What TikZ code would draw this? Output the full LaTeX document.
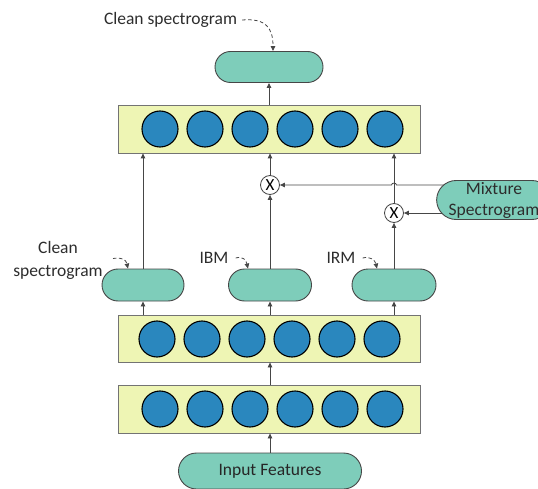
\documentclass[tikz,border=0pt]{standalone}
\usepackage{fontspec}
\setmainfont{Carlito}
\usetikzlibrary{shapes.misc,arrows.meta,backgrounds,calc}
\definecolor{pillfill}{RGB}{126,205,186}
\definecolor{layerfill}{RGB}{238,245,180}
\definecolor{unitfill}{RGB}{42,135,190}
\definecolor{txt}{RGB}{45,45,45}
\definecolor{edge}{RGB}{70,70,70}

\begin{document}
\begin{tikzpicture}[x=1pt,y=-1pt,
  pill/.style={rounded rectangle, draw=edge, line width=0.9pt, fill=pillfill,
    minimum height=32pt, inner sep=0pt, text=txt, font=\fontsize{17.5}{21}\selectfont},
  layer/.style={rectangle, draw=black!55, line width=0.8pt, fill=layerfill,
    minimum width=302pt, minimum height=48pt, inner sep=0pt},
  unit/.style={circle, draw=black, line width=1.1pt, fill=unitfill,
    minimum size=36pt, inner sep=0pt},
  mult/.style={circle, draw=edge, line width=0.8pt, fill=white,
    minimum size=19pt, inner sep=0pt, font=\fontsize{17}{17}\selectfont},
  lbl/.style={text=txt, font=\fontsize{17.5}{23}\selectfont, inner sep=0pt},
  arr/.style={draw=edge, line width=0.8pt, -{Triangle[length=5pt,width=4.5pt]}},
  dasharr/.style={draw=edge, line width=0.8pt, dash pattern=on 3.5pt off 2.5pt,
    -{Triangle[length=5pt,width=4.5pt]}}
]
\useasboundingbox (0,0) rectangle (538,489);
\clip (0,0) rectangle (538,489);

% three hidden layers, each a row of six units
\node[layer] (L3) at (269,129) {};
\foreach \i/\x in {1/160,2/205,3/250,4/295,5/340,6/385}
  \node[unit] (u3\i) at (\x,129) {};
\node[layer, minimum height=47pt] (L2) at (269,338.5) {};
\foreach \i/\x in {1/157,2/202,3/247,4/292,5/337,6/382}
  \node[unit] (u2\i) at (\x,339) {};
\node[layer] (L1) at (269,409) {};
\foreach \i/\x in {1/160,2/205,3/250,4/295,5/340,6/385}
  \node[unit] (u1\i) at (\x,409) {};

% outputs and inputs
\node[pill, minimum width=108pt, minimum height=31pt] (top) at (269,67) {};
\node[pill, minimum width=82pt] (lp) at (143,285) {};
\node[pill, minimum width=83pt] (ibm) at (270,285) {};
\node[pill, minimum width=84pt] (irm) at (394,285) {};
\node[pill, minimum width=108pt, minimum height=39pt, align=center,
      font=\fontsize{17.5}{21}\selectfont] (mix) at (494,200) {Mixture\\Spectrogram};
\node[pill, minimum width=183pt, minimum height=36pt, text=black!85] (inp) at (270,471) {Input Features};

% masking products
\node[mult] (x1) at (270,185) {X};
\node[mult] (x2) at (394,213) {X};

% feed-forward connections
\draw[arr] (inp.north) -- (inp.north |- L1.south);
\draw[arr] (L1.north -| inp.north) -- (L2.south -| inp.north);
\draw[arr] (lp.south |- L2.north) -- (lp.south);
\draw[arr] (ibm.south |- L2.north) -- (ibm.south);
\draw[arr] (irm.south |- L2.north) -- (irm.south);
\draw[arr] (lp.north) -- (lp.north |- L3.south);
\draw[arr] (ibm.north) -- (x1.south);
\draw[arr] (x1.north) -- (x1.north |- L3.south);
\draw[arr] (irm.north) -- (x2.south);
\draw[arr] (x2.north) -- (x2.north |- L3.south);
\draw[arr] (L3.north -| top.south) -- (top.south);

% mixture spectrogram feeding both products
\begin{pgfonlayer}{background}
  \draw[arr] (mix.center |- x1) -- (396.5,185) .. controls (396.5,182.5) and (391.5,182.5) .. (391.5,185) -- (x1.east);
  \draw[arr] (mix.center |- x2) -- (x2.east);
\end{pgfonlayer}

% target labels
\node[lbl] (tclean) at (170.5,20) {Clean spectrogram};
\draw[dasharr] ($(tclean.east)+(5,0)$) .. controls (266,18) and (273,28) .. ($(top.north)+(4,0)$);
\node[lbl, align=center] (lclean) at (58,260) {Clean\\spectrogram};
\draw[dasharr] (113,258.5) .. controls (123,257) and (126,260) .. ($(lp.north)+(-15,0)$);
\node[lbl] (tibm) at (214,258) {IBM};
\draw[dasharr] ($(tibm.east)+(7,0)$) .. controls (243,256) and (246,260) .. ($(ibm.north)+(-22,0)$);
\node[lbl] (tirm) at (341,258) {IRM};
\draw[dasharr] ($(tirm.east)+(7,0)$) .. controls (370,256) and (375,260) .. ($(irm.north)+(-17,0)$);
\end{tikzpicture}
\end{document}
